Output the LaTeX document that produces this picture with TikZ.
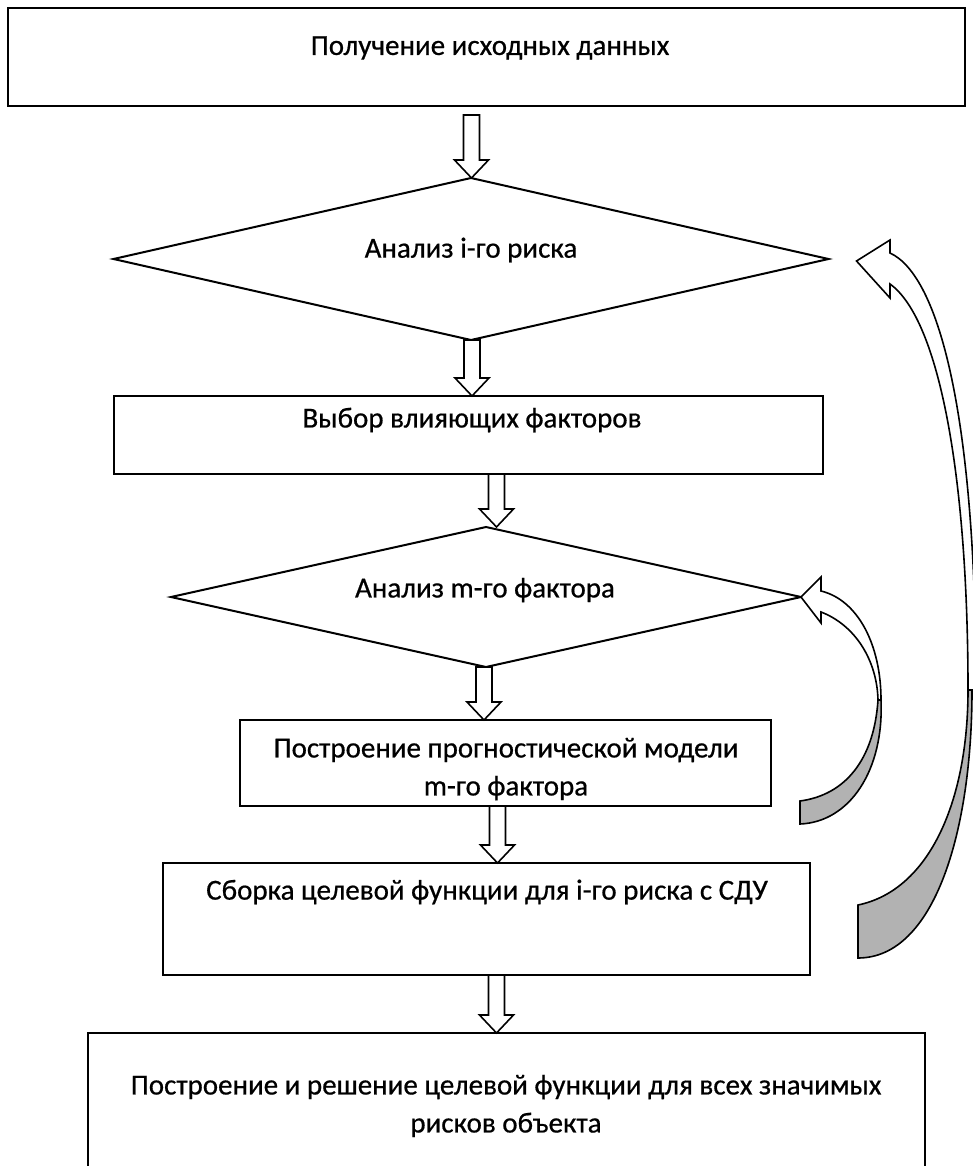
\documentclass[tikz,border=0pt]{standalone}
\usepackage{fontspec}
\setmainfont{Carlito}
\newfontfamily\lblfont{Carlito}[FakeBold=0.6]
\usetikzlibrary{calc,shapes.geometric}
\newcommand\blockarrow[2]{\path[barr] let \p1=(#1), \p2=(#2) in
  (\x1-8pt,\y1) -- (\x1+8pt,\y1) -- (\x1+8pt,\y2+18pt) -- (\x1+17pt,\y2+18pt)
  -- (\x1,\y2) -- (\x1-17pt,\y2+18pt) -- (\x1-8pt,\y2+18pt) -- cycle;}
\begin{document}
\begin{tikzpicture}[x=1pt,y=-1pt,
  box/.style={draw,line width=2pt,inner sep=0pt,outer sep=0pt,fill=white},
  dia/.style={draw,line width=2pt,shape=diamond,inner sep=0pt,outer sep=0pt},
  lbl/.style={font=\lblfont\fontsize{29}{38}\selectfont,align=center,inner sep=0pt},
  barr/.style={draw,line width=1.6pt,fill=white,line join=miter},
  curvw/.style={draw,line width=1.6pt,fill=white,line join=miter},
  curvg/.style={draw,line width=1.6pt,fill=black!30}]
\useasboundingbox (0,0) rectangle (972,1166);
% boxes and decisions
\node[box,minimum width=957pt,minimum height=98pt] (b1) at (486.5,57) {};
\node[lbl] (t1) at (490,48) {Получение исходных данных};
\node[dia,minimum width=715pt,minimum height=162pt] (d1) at (471,259) {};
\node[lbl] (t2) at (471,250) {Анализ i-го риска};
\node[box,minimum width=709pt,minimum height=78pt] (b2) at (468.5,435) {};
\node[lbl] (t3) at (472,420) {Выбор влияющих факторов};
\node[dia,minimum width=630pt,minimum height=140pt] (d2) at (486,597) {};
\node[lbl] (t4) at (485,590) {Анализ m-го фактора};
\node[box,minimum width=531pt,minimum height=86pt] (b3) at (505.5,763) {};
\node[lbl] (t5) at (506,769) {Построение прогностической модели\\m-го фактора};
\node[box,minimum width=647pt,minimum height=112pt] (b4) at (486.5,919) {};
\node[lbl] (t6) at (487,892) {Сборка целевой функции для i-го риска с СДУ};
\node[box,minimum width=837pt,minimum height=160pt] (b5) at (506.5,1113) {};
\node[lbl] (t7) at (506,1106) {Построение и решение целевой функции для всех значимых\\рисков объекта};
% block arrows
\coordinate (a1) at ($(b1.south)+(-15,9)$);
\blockarrow{a1}{d1.north}
\coordinate (a2) at ($(d1.south)+(1,0)$);
\blockarrow{a2}{b2.north}
\coordinate (a3) at ($(b2.south)+(28,0)$);
\blockarrow{a3}{d2.north}
\coordinate (a4) at ($(d2.south)+(-2,0)$);
\blockarrow{a4}{b3.north}
\coordinate (a5) at ($(b3.south)+(-8,0)$);
\blockarrow{a5}{b4.north}
\coordinate (a6) at ($(b4.south)+(10,0)$);
\blockarrow{a6}{b5.north}
% small curved arrow (from b3 back to d2)
\coordinate (s1) at ($(b3.east)+(29,38)$);
\path[curvg] (s1) .. controls (845,795) and (874,760) .. (878,700)
  -- (881,700) .. controls (884,770) and (850,822) .. (800,824) -- cycle;
\path[curvw] (d2.east) -- (821,577) -- (821,591) .. controls (858,600) and (881,645) .. (881,700)
  -- (878,700) .. controls (877,660) and (855,625) .. (821,612) -- (821,623) -- cycle;
% large curved arrow (from b4 back to d1)
\coordinate (h1) at ($(d1.east)+(28,2)$);
\path[curvg] (858,905) .. controls (930,890) and (968,800) .. (968,690)
  -- (972,690) .. controls (972,830) and (935,958) .. (858,958) -- cycle;
\path[curvw] (h1) -- (890,240) -- (890,253) .. controls (940,276) and (976,420) .. (976,690)
  -- (968,690) .. controls (968,480) and (940,320) .. (890,284) -- (890,298) -- cycle;
\end{tikzpicture}
\end{document}
